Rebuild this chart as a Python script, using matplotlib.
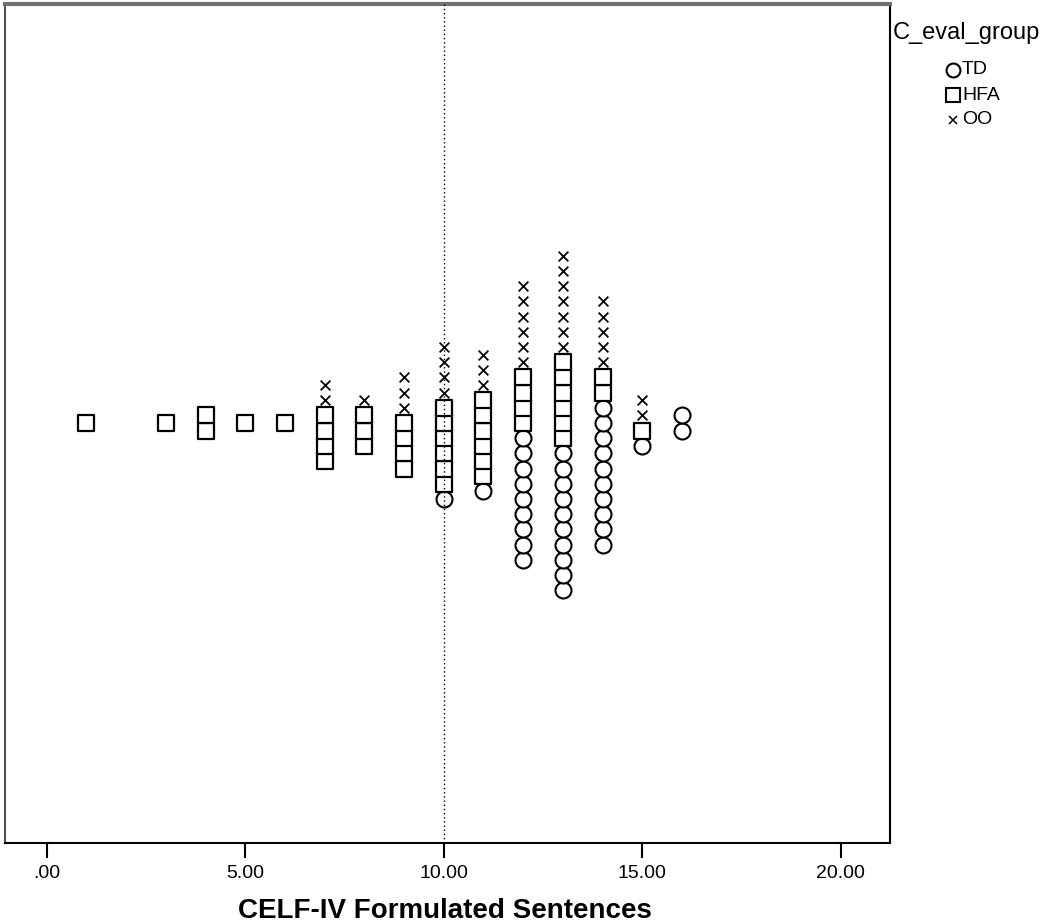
import matplotlib
matplotlib.use("Agg")
import matplotlib.pyplot as plt
from matplotlib.lines import Line2D

# Scores and counts per group (CELF-IV Formulated Sentences)
scores = [1, 3, 4, 5, 6, 7, 8, 9, 10, 11, 12, 13, 14, 15, 16]
td_counts = [0, 0, 0, 0, 0, 0, 0, 0, 1, 1, 9, 10, 10, 1, 2]
hfa_counts = [1, 1, 2, 1, 1, 4, 3, 4, 6, 6, 4, 6, 2, 1, 0]
oo_counts = [0, 0, 0, 0, 0, 2, 1, 3, 4, 3, 6, 7, 5, 2, 0]

groups = ["TD", "HFA", "OO"]
xticks = [0, 5, 10, 15, 20]
xticklabels = [".00", "5.00", "10.00", "15.00", "20.00"]

FONT = ["Liberation Sans", "DejaVu Sans"]

fig = plt.figure(figsize=(10.5, 9.24), dpi=100)
ax = fig.add_axes([5 / 1050, 1 - 843 / 924, 885 / 1050, 839 / 924])

px_per_unit_x = 39.7
x_left = -(46.7 - 5) / px_per_unit_x
x_right = x_left + 885 / px_per_unit_x
ax.set_xlim(x_left, x_right)
step = 15.2
ax.set_ylim(-(843 - 423) / step, (423 - 4) / step)

styles = {
    "TD": dict(marker="o", s=11.5 ** 2, facecolors="white", edgecolors="black", linewidths=1.5),
    "HFA": dict(marker="s", s=12 ** 2, facecolors="white", edgecolors="black", linewidths=1.6),
    "OO": dict(marker="x", s=7 ** 2, c="black", linewidths=1.3),
}

pts = {g: ([], []) for g in groups}
for x, a, b, c in zip(scores, td_counts, hfa_counts, oo_counts):
    n = a + b + c
    # bottom to top: TD, HFA, OO ; stack centered on 0
    ys = [-(n - 1) / 2 + i for i in range(n)]
    labels = ["TD"] * a + ["HFA"] * b + ["OO"] * c
    for yy, lab in zip(ys, labels):
        pts[lab][0].append(x)
        pts[lab][1].append(yy)

for g in groups:
    ax.scatter(pts[g][0], pts[g][1], zorder=3, clip_on=False, **styles[g])

ax.axvline(10, color="black", linestyle=(0, (1, 2)), linewidth=1.0, zorder=5)

ax.set_yticks([])
ax.set_xticks(xticks)
ax.set_xticklabels(xticklabels, fontsize=14, family=FONT)
ax.tick_params(axis="x", direction="out", length=10.5, width=1.5, pad=5)

fig.text(445 / 1050, 1 - 911 / 924, "CELF-IV Formulated Sentences", fontsize=20,
         fontweight="bold", family=FONT, ha="center", va="center")

ax.spines["top"].set_color("#707070")
ax.spines["top"].set_linewidth(3)
ax.spines["left"].set_color("#505050")
ax.spines["left"].set_linewidth(1.5)
ax.spines["right"].set_linewidth(1.5)
ax.spines["bottom"].set_linewidth(1.5)

# Legend
fig.text(893 / 1050, 1 - 33 / 924, "C_eval_group", fontsize=17, family=FONT,
         va="center", ha="left")
leg_items = [("TD", "o", 70), ("HFA", "s", 95), ("OO", "x", 120)]
for lab, mk, yp in leg_items:
    kw = dict(marker=mk, markersize=10 if mk != "x" else 6, color="black",
              markerfacecolor="white", markeredgecolor="black",
              markeredgewidth=1.5 if mk != "x" else 1.1, linestyle="none")
    fig.lines.append(Line2D([953 / 1050], [1 - yp / 924], transform=fig.transFigure, **kw))
    fig.text(962 / 1050, 1 - yp / 924, lab, fontsize=14, family=FONT,
             va="center", ha="left")

fig.savefig("out.png", dpi=100)
